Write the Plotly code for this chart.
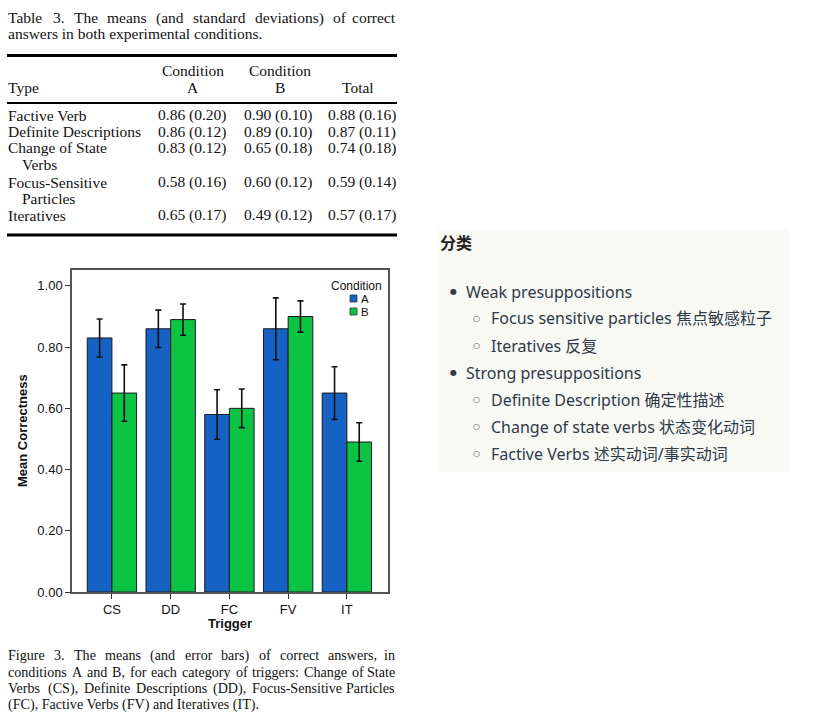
import plotly.graph_objects as go

# ---------------- data ----------------
triggers = ["CS", "DD", "FC", "FV", "IT"]
mean_a = [0.83, 0.86, 0.58, 0.86, 0.65]
mean_b = [0.65, 0.89, 0.60, 0.90, 0.49]
err_a = [0.062, 0.061, 0.081, 0.101, 0.086]
err_b = [0.092, 0.051, 0.063, 0.051, 0.063]
y_ticks = [0.0, 0.2, 0.4, 0.6, 0.8, 1.0]

table_types = [["Factive Verb"], ["Definite Descriptions"], ["Change of State", "Verbs"],
               ["Focus-Sensitive", "Particles"], ["Iteratives"]]
table_mean_a = [0.86, 0.86, 0.83, 0.58, 0.65]
table_sd_a = [0.20, 0.12, 0.12, 0.16, 0.17]
table_mean_b = [0.90, 0.89, 0.65, 0.60, 0.49]
table_sd_b = [0.10, 0.10, 0.18, 0.12, 0.12]
table_mean_t = [0.88, 0.87, 0.74, 0.59, 0.57]
table_sd_t = [0.16, 0.11, 0.18, 0.14, 0.17]

table_title = ["Table 3. The means (and standard deviations) of correct",
               "answers in both experimental conditions."]
caption = ["Figure 3.  The means (and error bars) of correct answers, in",
           "conditions A and B, for each category of triggers: Change of State",
           "Verbs (CS), Definite Descriptions (DD), Focus-Sensitive Particles",
           "(FC), Factive Verbs (FV) and Iteratives (IT)."]

box_title = "分类"
outline = [("Weak presuppositions", ["Focus sensitive particles 焦点敏感粒子", "Iteratives 反复"]),
           ("Strong presuppositions", ["Definite Description 确定性描述", "Change of state verbs 状态变化动词",
                                       "Factive Verbs 述实动词/事实动词"])]

# ---------------- helpers ----------------
W, H = 828, 718
H_EFF = 710  # drawn height observed in the viewer
SERIF = "Liberation Serif, Times New Roman, serif"
SANS = "Liberation Sans, Arial, sans-serif"
BOXF = "Noto Sans, Noto Sans CJK SC, sans-serif"


def px(x):
    return x / W


def py(y):
    return 1 - y / H_EFF


TIMES = {'a': 444, 'b': 500, 'c': 444, 'd': 500, 'e': 444, 'f': 333, 'g': 500, 'h': 500, 'i': 278,
         'j': 278, 'k': 500, 'l': 278, 'm': 778, 'n': 500, 'o': 500, 'p': 500, 'q': 500, 'r': 333,
         's': 389, 't': 278, 'u': 500, 'v': 500, 'w': 722, 'x': 500, 'y': 500, 'z': 444,
         'A': 722, 'B': 667, 'C': 667, 'D': 722, 'E': 611, 'F': 556, 'G': 722, 'H': 722, 'I': 333,
         'J': 389, 'K': 722, 'L': 611, 'M': 889, 'N': 722, 'O': 722, 'P': 556, 'Q': 722, 'R': 667,
         'S': 556, 'T': 611, 'U': 722, 'V': 722, 'W': 944, 'X': 722, 'Y': 722, 'Z': 611,
         ' ': 250, '.': 250, ',': 250, '(': 333, ')': 333, '-': 333, ':': 278}


def tw(s, size):
    return sum(TIMES.get(c, 500) for c in s) * size / 1000


annotations = []
shapes = []


def ann(text, x, y, size, xanchor="left", family=SERIF, color="#111111", **kw):
    annotations.append(dict(text=text, x=px(x), y=py(y), xref="paper", yref="paper",
                            xanchor=xanchor, yanchor="middle", showarrow=False, borderpad=0,
                            font=dict(family=family, size=size, color=color), **kw))


def justify(line, x0, x1, y, size):
    words = line.split()
    ws = [tw(w, size) for w in words]
    gap = (x1 - x0 - sum(ws)) / (len(words) - 1)
    x = x0
    for i, (w, wd) in enumerate(zip(words, ws)):
        if i == len(words) - 1:
            ann(w, x1, y, size, "right")
        else:
            ann(w, x, y, size, "left")
        x += wd + gap


def hline(y, x0, x1, width, color="#000000"):
    shapes.append(dict(type="line", xref="paper", yref="paper", x0=px(x0), x1=px(x1),
                       y0=py(y), y1=py(y), line=dict(color=color, width=width)))


# ---------------- table ----------------
TS = 15.5
justify(table_title[0], 7, 397, 18, TS)
ann(table_title[1], 7, 33, TS)
hline(55.5, 7, 397, 3)
hline(103, 7, 397, 2.2)
hline(235, 7, 397, 3)
ann("Condition", 193, 71, TS, "center")
ann("A", 193, 87, TS, "center")
ann("Condition", 280, 71, TS, "center")
ann("B", 280, 87, TS, "center")
ann("Type", 7, 87, TS)
ann("Total", 358, 87, TS, "center")
row_y = [115, 132, 148, 182, 215]
for i, t in enumerate(table_types):
    y = row_y[i]
    ann(t[0], 7, y, TS)
    if len(t) > 1:
        ann(t[1], 21, y + 16, TS)
    ann(f"{table_mean_a[i]:.2f} ({table_sd_a[i]:.2f})", 227, y, TS, "right")
    ann(f"{table_mean_b[i]:.2f} ({table_sd_b[i]:.2f})", 313, y, TS, "right")
    ann(f"{table_mean_t[i]:.2f} ({table_sd_t[i]:.2f})", 397, y, TS, "right")

# ---------------- caption ----------------
CS_ = 14.1
cap_y = [655, 671.5, 688, 704.5]
for i, line in enumerate(caption):
    if i < len(caption) - 1:
        justify(line, 7, 396, cap_y[i], CS_)
    else:
        ann(line, 7, cap_y[i], CS_)

# ---------------- chart ----------------
BLUE = "#1662C4"
GREEN = "#0CC444"
fig = go.Figure()
fig.add_trace(go.Bar(x=triggers, y=mean_a, name="A", marker=dict(color=BLUE, line=dict(color="#1a1a1a", width=1)),
                     error_y=dict(type="data", array=err_a, color="#111111", thickness=1.6, width=3)))
fig.add_trace(go.Bar(x=triggers, y=mean_b, name="B", marker=dict(color=GREEN, line=dict(color="#1a1a1a", width=1)),
                     error_y=dict(type="data", array=err_b, color="#111111", thickness=1.6, width=3)))

# axis titles
ann("<b>Mean Correctness</b>", 22, 431, 13, "center", family=SANS, color="#111111", textangle=-90)
ann("<b>Trigger</b>", 230, 623, 13, "center", family=SANS, color="#111111")

# legend (manual)
ann("Condition", 383, 286, 12, "right", family=SANS, color="#111111")
for lab, col, yc in [("A", BLUE, 298.5), ("B", GREEN, 311.5)]:
    shapes.append(dict(type="rect", xref="paper", yref="paper", x0=px(350), x1=px(357),
                       y0=py(yc + 3.5), y1=py(yc - 3.5), fillcolor=col, line=dict(color="#333333", width=0.8)))
    ann(lab, 360, yc, 11.5, "left", family=SANS, color="#111111")

# ---------------- right note box ----------------
shapes.append(dict(type="rect", xref="paper", yref="paper", x0=px(438), x1=px(790), y0=py(472), y1=py(230),
                   fillcolor="#F8F8F4", line=dict(width=0), layer="below"))
BOXC = "#2f3a48"
ann("<b>" + box_title + "</b>", 439, 243, 16, "left", family=BOXF, color="#222222")
by = 291.5
for main, subs in outline:
    ann("●", 449, by, 8, "left", family="DejaVu Sans", color="#333a44")
    ann(main, 465, by, 16, "left", family=BOXF, color=BOXC)
    by += 27
    for s in subs:
        ann("○", 472, by, 8, "left", family="DejaVu Sans", color="#333a44")
        ann(s, 490, by, 16, "left", family=BOXF, color=BOXC)
        by += 27

fig.update_layout(
    width=W, height=H, margin=dict(l=0, r=0, t=0, b=0),
    paper_bgcolor="white", plot_bgcolor="white",
    barmode="group", bargap=0.16, bargroupgap=0,
    showlegend=False,
    annotations=annotations, shapes=shapes,
    xaxis=dict(domain=[px(72), px(388)], range=[-0.68, 4.7], type="category",
               showline=True, mirror=True, linecolor="#555555", linewidth=1.5,
               ticks="outside", ticklen=5, tickcolor="#333333", tickwidth=1,
               tickfont=dict(family=SANS, size=13, color="#111111"), showgrid=False),
    yaxis=dict(domain=[py(592), py(270)], range=[0, 1.052], tickvals=y_ticks, tickformat=".2f",
               showline=True, mirror=True, linecolor="#555555", linewidth=1.5,
               ticks="outside", ticklen=5, tickcolor="#333333", tickwidth=1,
               tickfont=dict(family=SANS, size=13, color="#111111"), showgrid=False, zeroline=False),
)

fig.write_html("out.html")
